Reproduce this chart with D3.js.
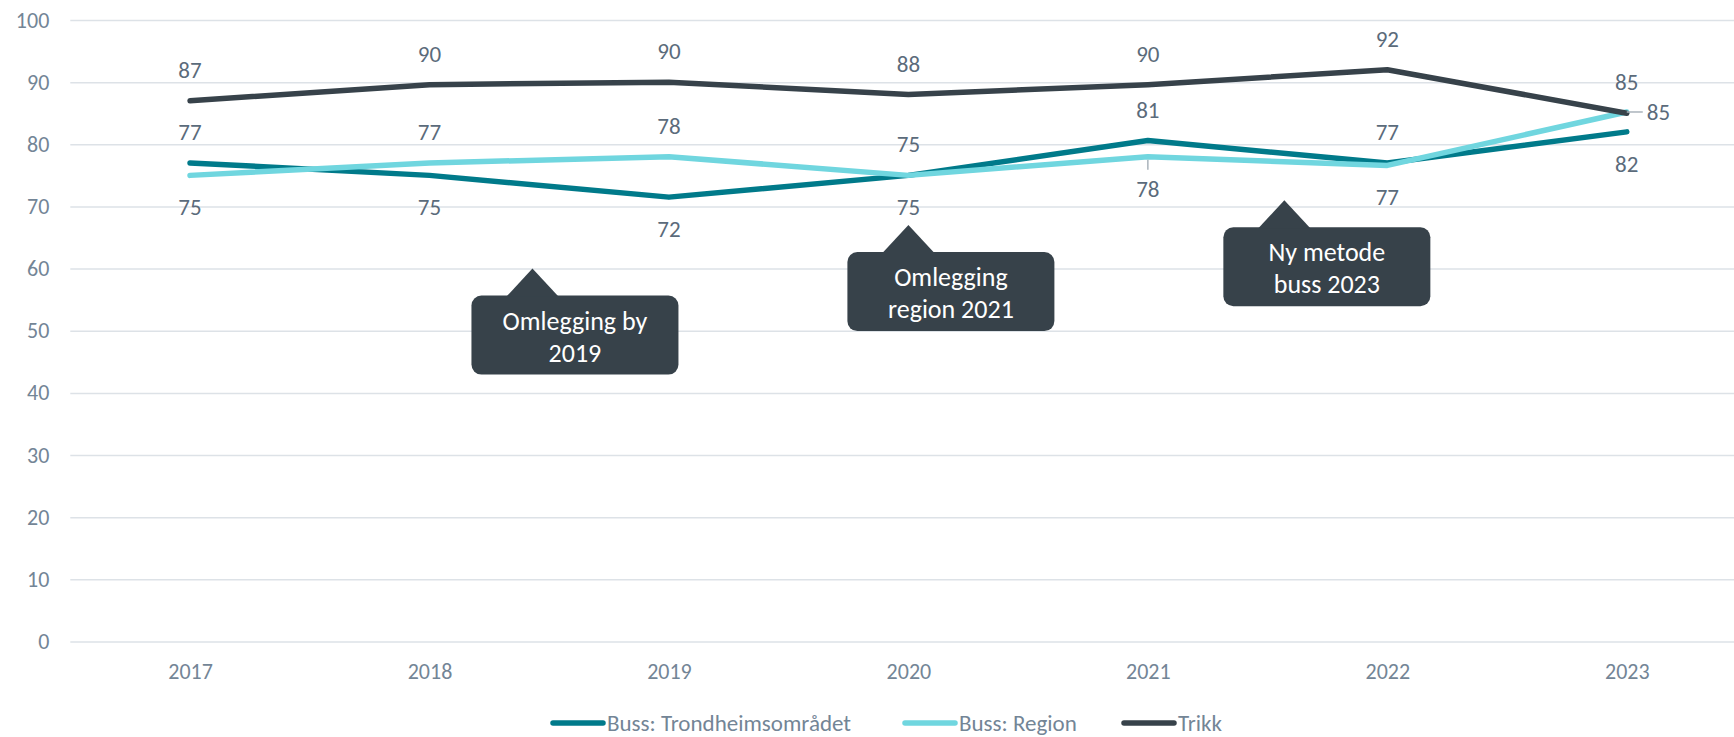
<!DOCTYPE html>
<html>
<head>
<meta charset="utf-8">
<script src="https://cdn.jsdelivr.net/npm/d3@7"></script>
<style>
  body { margin: 0; background: #fff; }
  svg { display: block; }
  svg text { font-family: Carlito, Calibri, Lato, sans-serif; }
</style>
</head>
<body>
<svg id="chart" width="1734" height="737"></svg>
<script>
// data
var years = ['2017', '2018', '2019', '2020', '2021', '2022', '2023'];
var trondheim = [77, 75, 71.5, 75, 80.6, 77, 82];
var region = [75, 77, 78, 75, 78, 76.6, 85.2];
var trikk = [87, 89.6, 90, 88, 89.6, 92, 85];
var seriesNames = ['Buss: Trondheimsområdet', 'Buss: Region', 'Trikk'];
var yTicks = [0, 10, 20, 30, 40, 50, 60, 70, 80, 90, 100];

// callouts: text lines, anchored at (year, value) of the pointer tip
var noteText = [['Omlegging by', '2019'], ['Omlegging', 'region 2021'], ['Ny metode', 'buss 2023']];
var noteYear = [2018.43, 2020, 2021.57];
var noteValue = [60, 67, 71];

var colors = ['#007a8a', '#70d6df', '#37424a'];
var tickColor = '#738596';
var labelColor = '#5b6b7b';

var svg = d3.select('#chart');
var plotLeft = 70.3, plotRight = 1746.5, plotTop = 20, plotBottom = 641.5;

var x = d3.scalePoint().domain(years).range([plotLeft, plotRight]).padding(0.5);
var y = d3.scaleLinear().domain([0, 100]).range([plotBottom, plotTop]);
var xNum = d3.scaleLinear().domain([+years[0], +years[years.length - 1]])
  .range([x(years[0]), x(years[years.length - 1])]);

// grid + y axis
var yAxis = svg.append('g')
  .attr('transform', 'translate(' + plotLeft + ',0)')
  .call(d3.axisLeft(y).tickValues(yTicks).tickSize(-(1734 - plotLeft)).tickPadding(21));
yAxis.attr('font-family', null).attr('font-size', null);
yAxis.select('.domain').remove();
yAxis.selectAll('line').attr('stroke', '#dde2e7').attr('stroke-width', 1.5);
yAxis.selectAll('text').attr('fill', tickColor).style('font-size', '22px');

// x axis labels
var xAxis = svg.append('g')
  .attr('transform', 'translate(0,' + plotBottom + ')')
  .call(d3.axisBottom(x).tickSize(0).tickPadding(22));
xAxis.attr('font-family', null).attr('font-size', null);
xAxis.select('.domain').remove();
xAxis.selectAll('text').attr('fill', tickColor).style('font-size', '22px');

var series = [trondheim, region, trikk];
var line = d3.line()
  .x(function (d, i) { return x(years[i]); })
  .y(function (d) { return y(d); });

series.forEach(function (vals, k) {
  svg.append('path')
    .datum(vals)
    .attr('d', line)
    .attr('fill', 'none')
    .attr('stroke', colors[k])
    .attr('stroke-width', 5.5)
    .attr('stroke-linecap', 'round')
    .attr('stroke-linejoin', 'round');
});

// data labels
var leaders = { 'Buss: Region|2021': true };
var labels = svg.append('g').style('font-size', '23px').attr('fill', labelColor);
years.forEach(function (yr, i) {
  var px = x(yr);
  var spots = [];
  spots.push({ v: trikk[i], pos: 'above', name: seriesNames[2] });
  var r = region[i], t = trondheim[i];
  if (Math.abs(r - trikk[i]) < 1) {
    spots.push({ v: r, pos: 'right', name: seriesNames[1] });
    spots.push({ v: t, pos: t > r ? 'above' : 'below', name: seriesNames[0] });
  } else if (r >= t) {
    spots.push({ v: r, pos: 'above', name: seriesNames[1] });
    spots.push({ v: t, pos: 'below', name: seriesNames[0] });
  } else {
    spots.push({ v: r, pos: 'below', name: seriesNames[1] });
    spots.push({ v: t, pos: 'above', name: seriesNames[0] });
  }
  spots.forEach(function (s) {
    var py = y(s.v);
    var tx = px, ty = py, anchor = 'middle';
    if (s.pos === 'above') ty = py - 31;
    if (s.pos === 'below') ty = py + 32;
    if (s.pos === 'right') { tx = px + 20; anchor = 'start'; }
    if (s.pos === 'right' || leaders[s.name + '|' + yr]) {
      var lx2 = s.pos === 'right' ? px + 16 : px;
      var ly2 = s.pos === 'right' ? py : py + 13;
      svg.append('line')
        .attr('x1', px).attr('y1', py + (s.pos === 'right' ? 0 : 3))
        .attr('x2', lx2).attr('y2', ly2)
        .attr('stroke', '#aab3bb').attr('stroke-width', 1.5);
    }
    labels.append('text')
      .attr('x', tx).attr('y', ty)
      .attr('text-anchor', anchor)
      .attr('dy', '0.35em')
      .text(d3.format('.0f')(s.v));
  });
});

// callouts
var boxW = 207, boxH = 79, tipOff = 61, tipH = 27, tipHalf = 26;
noteText.forEach(function (lines, k) {
  var ax = xNum(noteYear[k]), ay = y(noteValue[k]);
  var bx = ax - tipOff, by = ay + tipH;
  var g = svg.append('g');
  g.append('rect')
    .attr('x', bx).attr('y', by)
    .attr('width', boxW).attr('height', boxH)
    .attr('rx', 10)
    .attr('fill', '#37424a');
  g.append('path')
    .attr('d', 'M' + (ax - tipHalf) + ',' + (by + 1) + 'L' + ax + ',' + ay + 'L' + (ax + tipHalf) + ',' + (by + 1) + 'Z')
    .attr('fill', '#37424a');
  lines.forEach(function (txt, j) {
    g.append('text')
      .attr('x', bx + boxW / 2)
      .attr('y', by + 25 + j * 32)
      .attr('dy', '0.35em')
      .attr('text-anchor', 'middle')
      .attr('fill', '#fff')
      .style('font-size', '26px')
      .style('font-weight', 300)
      .text(txt);
  });
});

// legend
var legendX = [550, 902, 1121];
var legendY = 723;
var legend = svg.append('g');
seriesNames.forEach(function (name, k) {
  legend.append('line')
    .attr('x1', legendX[k] + 3).attr('x2', legendX[k] + 53)
    .attr('y1', legendY).attr('y2', legendY)
    .attr('stroke', colors[k])
    .attr('stroke-width', 5.5)
    .attr('stroke-linecap', 'round');
  legend.append('text')
    .attr('x', legendX[k] + 57).attr('y', legendY)
    .attr('dy', '0.35em')
    .attr('fill', tickColor)
    .style('font-size', '23px')
    .text(name);
});
</script>
</body>
</html>
